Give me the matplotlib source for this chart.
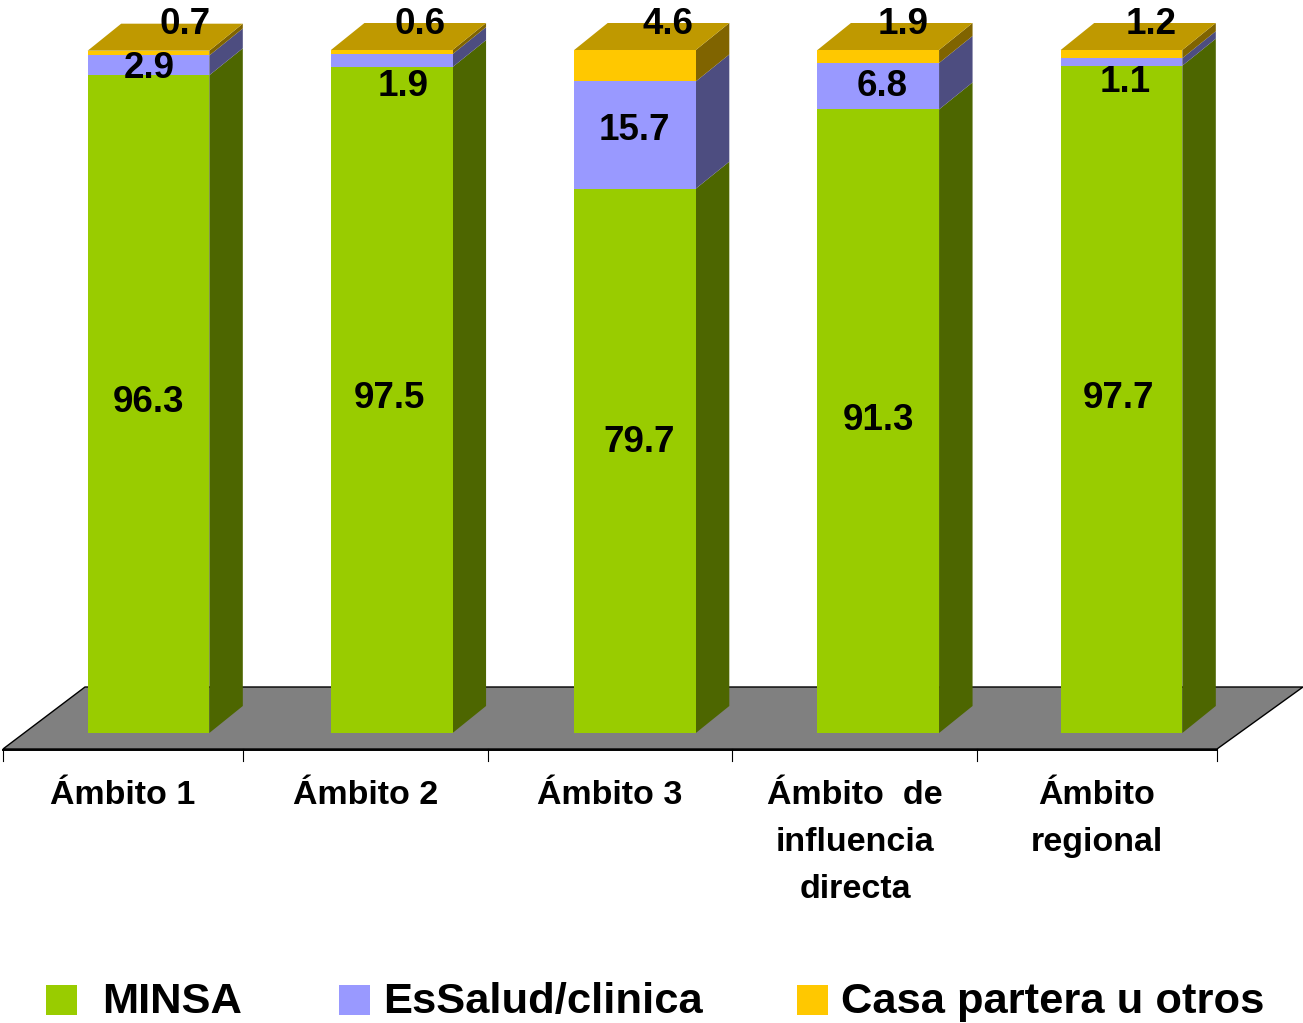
"""Stacked pseudo-3D bars: lugar de atencion por ambito."""
import matplotlib

matplotlib.use("Agg")
import matplotlib.pyplot as plt
from matplotlib.patches import Polygon, Rectangle
from matplotlib.transforms import Affine2D

W, H = 1303, 1023

categories = ["Ámbito 1", "Ámbito 2", "Ámbito 3", "Ámbito  de\ninfluencia\ndirecta", "Ámbito\nregional"]
minsa = [96.3, 97.5, 79.7, 91.3, 97.7]
essalud = [2.9, 1.9, 15.7, 6.8, 1.1]
casa = [0.7, 0.6, 4.6, 1.9, 1.2]
series_names = ["MINSA", "EsSalud/clinica", "Casa partera u otros"]

front_colors = ["#99CC00", "#9999FF", "#FFC800"]
side_colors = ["#4D6600", "#4D4D80", "#806400"]
top_color = "#BF9900"

# label anchors in pixels
minsa_xy = [(148, 402), (389, 399), (639, 443), (878, 420), (1119, 399)]
essalud_xy = [(149, 69), (403, 86), (634, 131), (882, 86), (1125, 83)]
casa_xy = [(185, 24), (420, 24), (668, 24), (903, 24), (1151, 24)]
cat_x = [123, 366, 610, 855, 1097]
tick_px = [3, 243, 488, 732, 977, 1217]
legend_box_x = [46, 339, 797]
legend_text_x = [102, 383, 841]

FONT = "Liberation Sans"
BAR_W = 0.5
PX_X = 243.25
PX_Y = 6.83
DEPTH_X = 33.5 / PX_X
DEPTH_Y = 27 / PX_Y

fig = plt.figure(figsize=(W / 100, H / 100), dpi=100)
ax = fig.add_axes([0, 0, 1, 1])
ax.set_xlim(-148.5 / PX_X, (W - 148.5) / PX_X)
ax.set_ylim(-(H - 733) / PX_Y, 733 / PX_Y)
ax.axis("off")

# top-left pixel coordinates for furniture and text
px = Affine2D().scale(1, -1).translate(0, H)

ax.add_patch(Polygon([(3, 749), (85, 687), (1303, 687), (1217, 749)], closed=True,
                     facecolor="#808080", edgecolor="black", linewidth=1, transform=px, zorder=1))
ax.plot([3, 1217], [749.5, 749.5], color="black", linewidth=1.4, transform=px, zorder=2)
for x in tick_px:
    ax.plot([x, x], [749, 761], color="black", linewidth=0.8, transform=px, zorder=2)

bottoms = [0.0] * len(categories)
for values, front, side in zip([minsa, essalud, casa], front_colors, side_colors):
    ax.bar(range(len(categories)), values, BAR_W, bottom=bottoms, color=front, zorder=4)
    for i, (value, base) in enumerate(zip(values, bottoms)):
        right = i + BAR_W / 2
        ax.add_patch(Polygon([(right, base), (right + DEPTH_X, base + DEPTH_Y),
                              (right + DEPTH_X, base + value + DEPTH_Y), (right, base + value)],
                             closed=True, facecolor=side, edgecolor="none", zorder=3))
    bottoms = [b + v for b, v in zip(bottoms, values)]

for i, total in enumerate(bottoms):
    left, right = i - BAR_W / 2, i + BAR_W / 2
    ax.add_patch(Polygon([(left, total), (right, total), (right + DEPTH_X, total + DEPTH_Y),
                          (left + DEPTH_X, total + DEPTH_Y)],
                         closed=True, facecolor=top_color, edgecolor="none", zorder=3))

for values, anchors in zip([minsa, essalud, casa], [minsa_xy, essalud_xy, casa_xy]):
    for value, (x, y) in zip(values, anchors):
        ax.text(x, y, f"{value:.1f}", transform=px, ha="center", va="center", family=FONT,
                fontsize=26.5, fontweight="bold", color="black", zorder=6)

for label, x in zip(categories, cat_x):
    for n, line in enumerate(label.split("\n")):
        ax.text(x, 795 + 47.5 * n, line, transform=px, ha="center", va="center", family=FONT,
                fontsize=24.5, fontweight="bold", color="black", zorder=6)

for name, color, bx, tx in zip(series_names, front_colors, legend_box_x, legend_text_x):
    ax.add_patch(Rectangle((bx, 985), 31, 30, facecolor=color, edgecolor="none", transform=px, zorder=5))
    ax.text(tx, 1002, name, transform=px, ha="left", va="center", family=FONT,
            fontsize=31.3, fontweight="bold", color="black", zorder=6)

fig.savefig("out.png", dpi=100)
plt.close(fig)
